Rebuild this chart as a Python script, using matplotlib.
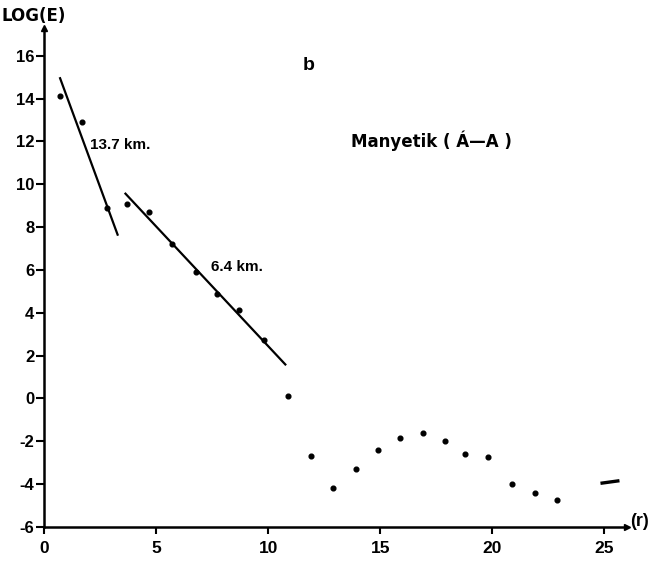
import matplotlib
matplotlib.use("Agg")
import matplotlib.pyplot as plt

# ---- data ----
r_pts = [0.7, 1.7, 2.8, 3.7, 4.7, 5.7, 6.8, 7.7, 8.7, 9.8, 10.9, 11.9,
         12.9, 13.9, 14.9, 15.9, 16.9, 17.9, 18.8, 19.8, 20.9, 21.9, 22.9]
logE_pts = [14.1, 12.9, 8.9, 9.1, 8.7, 7.2, 5.9, 4.9, 4.15, 2.75, 0.1, -2.7,
            -4.2, -3.3, -2.4, -1.85, -1.6, -2.0, -2.6, -2.75, -4.0, -4.4, -4.75]

fit1_r = [0.7, 3.3]
fit1_y = [15.0, 7.6]
fit2_r = [3.6, 10.8]
fit2_y = [9.6, 1.55]

mark_r = [24.9, 25.6]
mark_y = [-3.95, -3.85]

xticks = [0, 5, 10, 15, 20, 25]
yticks = [-6, -4, -2, 0, 2, 4, 6, 8, 10, 12, 14, 16]

plt.rcParams['font.family'] = ['Liberation Sans', 'DejaVu Sans']
plt.rcParams['axes.unicode_minus'] = False

fig = plt.figure(figsize=(6.57, 5.62), dpi=100)
ax = fig.add_axes([0.067, 0.0623, 0.887, 0.888])
ax.set_xlim(0, 26)
ax.set_ylim(-6, 17.3)

ax.plot(r_pts, logE_pts, 'o', color='black', markersize=3.4, linestyle='none')
ax.plot(fit1_r, fit1_y, color='black', linewidth=1.6, solid_capstyle='butt')
ax.plot(fit2_r, fit2_y, color='black', linewidth=1.6, solid_capstyle='butt')
ax.plot(mark_r, mark_y, color='black', linewidth=2.4)

for s in ['top', 'right']:
    ax.spines[s].set_visible(False)
for s in ['left', 'bottom']:
    ax.spines[s].set_linewidth(1.8)

ax.set_xticks(xticks)
ax.set_yticks(yticks)
ax.tick_params(axis='both', direction='out', width=1.5)
ax.tick_params(axis='x', labelsize=12.5, pad=5, length=5)
ax.tick_params(axis='y', labelsize=12, pad=1, length=6)
for lab in ax.get_xticklabels() + ax.get_yticklabels():
    lab.set_fontweight('bold')

# axis arrows
ax.plot([0], [17.3], marker='^', color='black', markersize=5, clip_on=False)
ax.plot([26], [-6], marker='>', color='black', markersize=5, clip_on=False)

ax.text(-1.875, 17.86, 'LOG(E)', fontsize=12, fontweight='bold', ha='left', va='center',
        family=['DejaVu Sans'], clip_on=False)
ax.text(26.15, -5.75, '(r)', fontsize=13, fontweight='bold', ha='left', va='center',
        clip_on=False)

ax.text(2.05, 11.85, '13.7 km.', fontsize=11, fontweight='bold', ha='left', va='center')
ax.text(7.45, 6.12, '6.4 km.', fontsize=11, fontweight='bold', ha='left', va='center')
ax.text(11.55, 15.55, 'b', fontsize=14, fontweight='heavy', ha='left', va='center')
ax.text(13.7, 12.05, 'Manyetik ( \u00c1\u2014A )', fontsize=12, fontweight='bold',
        ha='left', va='center', family=['DejaVu Sans'])

fig.savefig('out.png', dpi=100)
